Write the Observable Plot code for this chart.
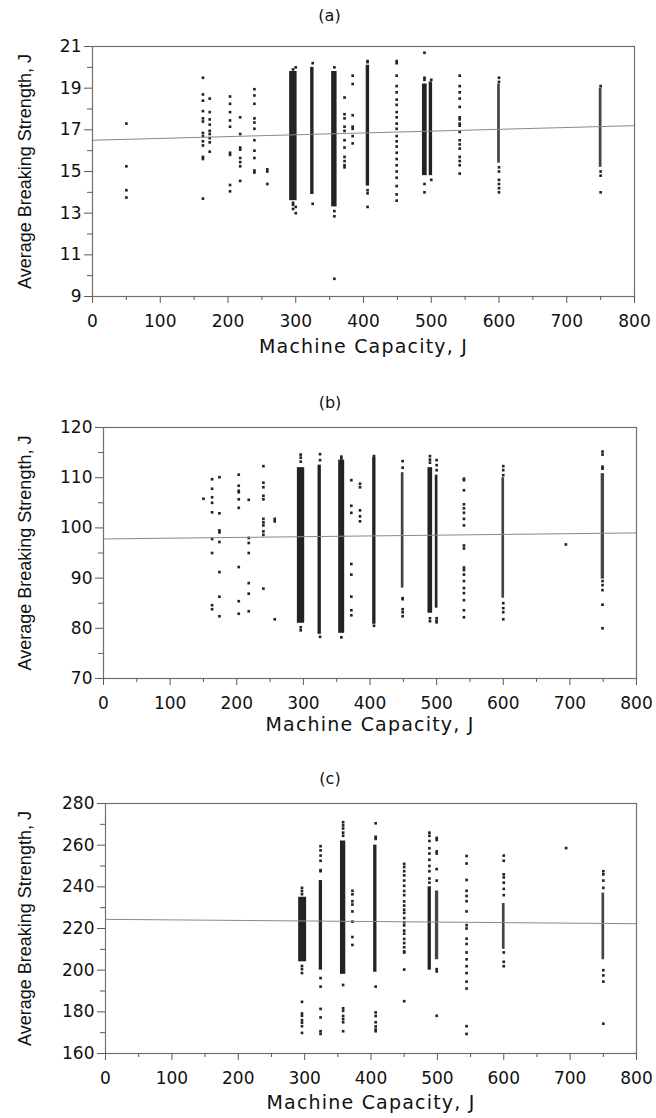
<!DOCTYPE html>
<html>
<head>
<meta charset="utf-8">
<script src="https://cdn.jsdelivr.net/npm/d3@7"></script>
<script src="https://cdn.jsdelivr.net/npm/@observablehq/plot@0.6"></script>
<style>
  html, body { margin: 0; padding: 0; background: #fff; }
  #wrap { position: relative; width: 656px; height: 1118px; overflow: hidden; background: #fff; }
  .pane { position: absolute; left: 0; }
</style>
</head>
<body>
<div id="wrap"></div>
<script>
// ---------- shared axis values ----------
const xTicks = [0, 100, 200, 300, 400, 500, 600, 700, 800];
const xMinor = [50, 150, 250, 350, 450, 550, 650, 750];
const regX = [0, 800];
const xTitle = "Machine Capacity, J";
const yTitle = "Average Breaking Strength, J";

// ---------- panel (a) ----------
const titleA = "(a)";
const yDomA = [9, 21];
const yTicksA = [9, 11, 13, 15, 17, 19, 21];
const yMinorA = [10, 12, 14, 16, 18, 20];
const regA = [16.5, 17.2];
const capA = [50, 163, 173, 203, 218, 239, 258, 296, 300, 325, 357, 372, 384, 406, 449, 490, 500, 542, 600, 750];
const valsA = [
  [17.3, 15.25, 14.1, 13.75],
  [19.5, 18.7, 18.4, 17.9, 17.55, 17.4, 16.85, 16.7, 16.45, 16.25, 15.7, 15.6, 13.7],
  [18.5, 17.85, 17.5, 17.25, 16.95, 16.8, 16.6, 16.4, 15.95],
  [18.6, 18.25, 17.85, 17.45, 17.15, 15.9, 15.8, 14.35, 14.05],
  [17.6, 16.8, 16.15, 16.05, 15.65, 15.45, 15.25, 14.55],
  [18.95, 18.65, 18.25, 17.55, 17.35, 17.05, 16.5, 16.0, 15.65, 15.05, 14.95],
  [15.1, 15.0, 14.4],
  [19.9, 13.5, 13.4, 13.2],
  [20.0, 13.0, 13.3],
  [20.2, 13.45],
  [20.0, 13.1, 12.85, 9.85],
  [18.55, 17.75, 17.55, 17.15, 16.95, 16.5, 16.15, 15.7, 15.5, 15.3, 15.2],
  [19.6, 19.2, 17.7, 17.15, 17.05, 16.7, 16.35],
  [20.3, 20.25, 14.1, 13.95, 13.3],
  [20.3, 20.2, 19.6, 19.1, 18.8, 18.45, 18.2, 17.85, 17.6, 17.3, 17.05, 16.7, 16.45, 16.2, 15.9, 15.6, 15.3, 15.0, 14.7, 14.3, 13.9, 13.6],
  [20.7, 19.5, 19.4, 14.4, 14.0],
  [19.4, 14.6],
  [19.6, 19.1, 18.8, 18.5, 18.1, 17.6, 17.5, 17.3, 17.2, 16.9, 16.5, 16.3, 16.1, 15.7, 15.5, 15.3, 14.9],
  [19.5, 19.3, 15.2, 15.0, 14.6, 14.4, 14.2, 14.0],
  [19.1, 15.0, 14.8, 14.0]
];
// dense strips: [capacity from, capacity to, low, high]
const denseA = [[291, 302, 13.6, 19.8], [322, 327, 13.9, 20.0], [353, 361, 13.3, 19.8], [404, 409, 14.3, 20.1], [487, 494, 14.8, 19.2], [497, 502, 14.8, 19.3]];
const semiA = [[598, 602, 15.4, 19.2], [748, 752, 15.2, 19.0]];

// ---------- panel (b) ----------
const titleB = "(b)";
const yDomB = [70, 120];
const yTicksB = [70, 80, 90, 100, 110, 120];
const yMinorB = [75, 85, 95, 105, 115];
const regB = [97.8, 99.0];
const capB = [150, 163, 174, 203, 218, 240, 257, 296, 325, 357, 372, 385, 406, 449, 490, 500, 541, 600, 694, 749];
const valsB = [
  [105.8],
  [109.7, 107.8, 106.1, 105.0, 103.1, 97.8, 95.0, 84.6, 83.8],
  [110.1, 102.9, 99.5, 99.1, 97.2, 91.2, 86.3, 82.4],
  [110.6, 108.4, 107.4, 107.1, 105.7, 104.0, 92.2, 85.4, 82.9],
  [105.6, 98.0, 97.0, 95.0, 89.0, 86.9, 83.4],
  [112.3, 109.0, 108.1, 106.4, 105.7, 101.8, 101.1, 100.5, 99.3, 98.6, 87.9],
  [101.8, 101.3, 81.8],
  [114.6, 114.0, 113.2, 80.2, 79.6],
  [114.7, 113.5, 78.3],
  [114.2, 113.8, 78.2],
  [109.5, 104.4, 103.0, 92.8, 90.7, 86.3, 83.6, 82.6],
  [108.8, 108.1, 103.5, 102.3, 101.3],
  [114.3, 80.5],
  [113.3, 112.0, 86.0, 85.8, 83.8, 83.2, 82.4],
  [114.3, 113.6, 113.0, 82.0, 81.4],
  [113.5, 112.5, 111.5, 82.0, 81.5, 81.2],
  [109.8, 109.5, 107.5, 104.7, 103.9, 103.0, 101.8, 100.5, 96.5, 95.9, 92.1, 91.6, 90.7, 89.4, 88.0, 87.0, 85.6, 83.6, 82.2],
  [112.3, 111.5, 110.5, 85.0, 84.0, 83.2, 81.8],
  [96.7],
  [115.2, 114.6, 112.2, 111.8, 89.4, 88.6, 87.6, 84.7, 80.0]
];
const denseB = [[291, 302, 81.0, 112.0], [322, 327, 78.8, 112.5], [353, 362, 79.0, 113.5], [404, 409, 80.8, 114.0], [487, 494, 83.0, 112.0], [498, 502, 84.0, 110.5]];
const semiB = [[447, 451, 88.0, 111.0], [598, 602, 86.0, 110.0], [747, 752, 89.8, 110.8]];

// ---------- panel (c) ----------
const titleC = "(c)";
const yDomC = [160, 280];
const yTicksC = [160, 180, 200, 220, 240, 260, 280];
const yMinorC = [170, 190, 210, 230, 250, 270];
const regC = [224.4, 222.3];
const capC = [296, 324, 358, 372, 407, 450, 488, 499, 544, 600, 694, 750];
const valsC = [
  [239.5, 238.0, 236.5, 202.0, 200.5, 198.6, 184.8, 179.2, 178.1, 176.0, 174.8, 173.1, 169.9],
  [259.5, 257.5, 255.0, 252.5, 248.0, 247.5, 196.2, 192.1, 181.4, 177.3, 170.7, 169.4],
  [271.0, 269.5, 268.0, 266.0, 264.5, 192.9, 181.7, 180.5, 178.0, 176.5, 175.0, 170.7],
  [238.1, 236.4, 233.1, 231.5, 228.2, 223.3, 215.9, 212.1],
  [270.5, 264.0, 263.0, 192.1, 179.7, 178.0, 175.0, 173.0, 171.5, 170.7],
  [251.0, 249.5, 247.5, 245.5, 243.0, 240.5, 238.0, 236.0, 233.0, 231.0, 229.0, 227.5, 225.0, 223.0, 221.5, 219.0, 217.5, 215.0, 213.0, 211.0, 209.0, 208.5, 200.3, 185.1],
  [266.0, 264.5, 262.0, 258.5, 256.0, 253.0, 250.0, 247.5, 244.0, 242.0],
  [263.5, 262.5, 257.0, 256.0, 248.5, 243.0, 200.5, 199.4, 178.1],
  [254.8, 251.2, 243.3, 238.1, 235.6, 233.1, 228.2, 221.6, 220.0, 215.1, 212.6, 208.5, 205.2, 201.9, 198.6, 194.5, 191.2, 173.1, 169.4],
  [255.0, 252.5, 246.0, 244.5, 242.0, 239.0, 236.0, 208.5, 204.0, 201.9],
  [258.6],
  [247.5, 246.0, 243.0, 239.5, 200.0, 197.5, 194.5, 174.3]
];
const denseC = [[291, 303, 204, 235], [322, 327, 200, 243], [354, 362, 198, 262], [404, 409, 199, 260], [486, 491, 200, 240]];
const semiC = [[497, 502, 205, 238], [598, 602, 210, 232], [748, 752, 205, 237]];

// ---------- drawing ----------
const INK = "#232323";
const AXIS = "#5a5a5a";
const TXT = "#111111";

function panel(cfg, d) {
  const pts = [];
  d.cap.forEach((c, i) => d.vals[i].forEach(v => pts.push({x: c, y: v})));
  const reg = regX.map((x, i) => ({x, y: d.reg[i]}));
  const toRect = a => a.map(([x1, x2, y1, y2]) => ({x1, x2, y1, y2}));
  const svg = Plot.plot({
    width: 656,
    height: cfg.h,
    marginTop: cfg.mt,
    marginBottom: cfg.mb,
    marginLeft: cfg.ml,
    marginRight: cfg.mr,
    x: {domain: [0, 800], label: null, axis: null},
    y: {domain: d.yDom, label: null, axis: null},
    style: {fontFamily: "DejaVu Sans, sans-serif", fontSize: "17px", color: TXT, background: "#fff", overflow: "visible"},
    marks: [
      Plot.rect(toRect(d.semi), {x1: "x1", x2: "x2", y1: "y1", y2: "y2", fill: INK, fillOpacity: 0.85}),
      Plot.rect(toRect(d.dense), {x1: "x1", x2: "x2", y1: "y1", y2: "y2", fill: INK}),
      Plot.dot(pts, {x: "x", y: "y", symbol: "square", r: 1.5, fill: INK, stroke: "none"}),
      Plot.line(reg, {x: "x", y: "y", stroke: "#8a8a8a", strokeWidth: 1}),
      Plot.frame({stroke: "#707070", strokeWidth: 1.2}),
      Plot.axisX({ticks: xTicks, tickSize: 7, tickPadding: 11, stroke: AXIS, tickFormat: d3.format("d"), label: null, fontSize: 17}),
      Plot.axisX({ticks: xMinor, tickSize: 4, stroke: AXIS, tickFormat: () => "", label: null}),
      Plot.axisY({ticks: d.yTicks, tickSize: 8, tickPadding: 3, stroke: AXIS, tickFormat: d3.format("d"), label: null, fontSize: 17}),
      Plot.axisY({ticks: d.yMinor, tickSize: 5, stroke: AXIS, tickFormat: () => "", label: null}),
      Plot.text([xTitle], {frameAnchor: "bottom", lineAnchor: "middle", dy: cfg.xtDy, fontSize: 19, fill: TXT, fontFamily: "DejaVu Sans, sans-serif"}),
      Plot.text([yTitle], {frameAnchor: "left", lineAnchor: "middle", textAnchor: "middle", rotate: -90, dx: cfg.ytDx, fontSize: 18, fill: TXT, fontFamily: "Liberation Sans, Arial, sans-serif"}),
      Plot.text([d.title], {frameAnchor: "top", lineAnchor: "middle", dx: cfg.tDx, dy: cfg.tDy, fontSize: 16, fill: TXT})
    ]
  });
  svg.querySelectorAll("text").forEach(t => {
    if (t.textContent === xTitle) t.setAttribute("letter-spacing", "1.2");
  });
  const div = document.createElement("div");
  div.className = "pane";
  div.style.top = cfg.top + "px";
  div.appendChild(svg);
  document.getElementById("wrap").appendChild(div);
}

panel({top: 0, h: 360, mt: 46, mb: 64, ml: 92, mr: 22, xtDy: 50, ytDx: -67, tDx: -34, tDy: -31},
      {title: titleA, yDom: yDomA, yTicks: yTicksA, yMinor: yMinorA, reg: regA, cap: capA, vals: valsA, dense: denseA, semi: semiA});
panel({top: 370, h: 380, mt: 57, mb: 72, ml: 103, mr: 20, xtDy: 46, ytDx: -78, tDx: -40, tDy: -25},
      {title: titleB, yDom: yDomB, yTicks: yTicksB, yMinor: yMinorB, reg: regB, cap: capB, vals: valsB, dense: denseB, semi: semiB});
panel({top: 748, h: 370, mt: 55, mb: 65, ml: 105, mr: 20, xtDy: 49, ytDx: -80, tDx: -41, tDy: -25},
      {title: titleC, yDom: yDomC, yTicks: yTicksC, yMinor: yMinorC, reg: regC, cap: capC, vals: valsC, dense: denseC, semi: semiC});
</script>
</body>
</html>
